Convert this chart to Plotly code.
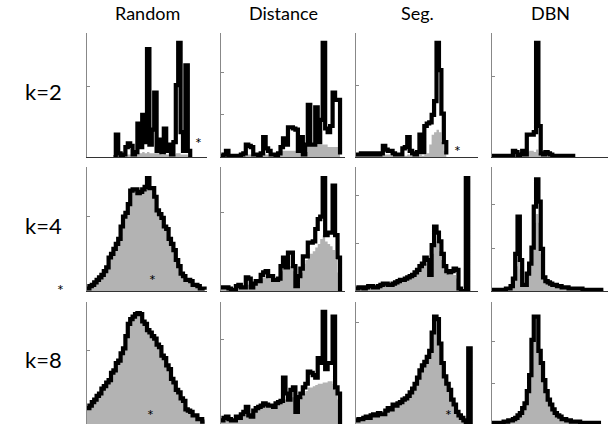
import plotly.graph_objects as go
import numpy as np

methods = ["Random", "Distance", "Seg.", "DBN"]
k_labels = ["k=2", "k=4", "k=8"]

# ---- k = 2 ----
random_k2_start = 11
random_k2 = [0.0, 0.18, 0.03, 0.01, 0.02, 0.08, 0.11, 0.09, 0.02, 0.04, 0.27, 0.08, 0.34, 0.12, 0.87, 0.1,
             0.22, 0.52, 0.05, 0.14, 0.04, 0.23, 0.05, 0.1, 0.02, 0.12, 0.58, 0.92, 0.2, 0.05, 0.74, 0.05, 0.0]
random_k2_fill = [0.0, 0.02, 0.01, 0.01, 0.01, 0.02, 0.02, 0.02, 0.02, 0.03, 0.03, 0.03, 0.04, 0.03, 0.04, 0.03,
                  0.03, 0.03, 0.03, 0.03, 0.02, 0.03, 0.02, 0.02, 0.02, 0.02, 0.03, 0.03, 0.02, 0.02, 0.02, 0.01, 0.0]

distance_k2_start = 0
distance_k2 = [0.01, 0.02, 0.05, 0.01, 0.01, 0.01, 0.01, 0.01, 0.02, 0.03, 0.1, 0.09, 0.08, 0.02, 0.02, 0.01,
               0.03, 0.16, 0.07, 0.05, 0.02, 0.02, 0.01, 0.03, 0.08, 0.15, 0.1, 0.24, 0.24, 0.23, 0.22, 0.05,
               0.16, 0.02, 0.1, 0.42, 0.1, 0.1, 0.4, 0.12, 0.3, 0.92, 0.23, 0.2, 0.25, 0.52, 0.46, 0.46, 0.02]
distance_k2_fill = [0.01, 0.01, 0.02, 0.01, 0.01, 0.01, 0.01, 0.01, 0.01, 0.01, 0.02, 0.02, 0.02, 0.01, 0.01, 0.01,
                    0.01, 0.02, 0.02, 0.01, 0.01, 0.01, 0.01, 0.01, 0.05, 0.05, 0.05, 0.05, 0.05, 0.05, 0.05, 0.04,
                    0.04, 0.02, 0.04, 0.1, 0.1, 0.1, 0.1, 0.1, 0.1, 0.1, 0.1, 0.08, 0.08, 0.08, 0.08, 0.08, 0.0]

seg_k2_start = 0
seg_k2 = [0.02, 0.02, 0.03, 0.02, 0.03, 0.02, 0.03, 0.02, 0.03, 0.02, 0.03, 0.09, 0.06, 0.05, 0.05, 0.03,
          0.02, 0.02, 0.02, 0.07, 0.08, 0.16, 0.05, 0.03, 0.02, 0.04, 0.18, 0.04, 0.25, 0.27, 0.28, 0.34,
          0.45, 0.92, 0.7, 0.35, 0.12, 0.02]
seg_k2_fill = [0.01, 0.01, 0.01, 0.01, 0.01, 0.01, 0.01, 0.01, 0.01, 0.01, 0.01, 0.02, 0.02, 0.02, 0.01, 0.01,
               0.01, 0.01, 0.01, 0.01, 0.01, 0.02, 0.01, 0.01, 0.01, 0.01, 0.02, 0.01, 0.02, 0.03, 0.1, 0.18,
               0.2, 0.22, 0.2, 0.12, 0.05, 0.0]

dbn_k2_start = 0
dbn_k2 = [0.01, 0.01, 0.01, 0.01, 0.01, 0.01, 0.01, 0.01, 0.01, 0.05, 0.04, 0.01, 0.02, 0.05, 0.02, 0.18,
          0.18, 0.18, 0.2, 0.92, 0.25, 0.03, 0.02, 0.04, 0.03, 0.02, 0.01, 0.01, 0.01, 0.01, 0.01, 0.01,
          0.01, 0.01, 0.01, 0.0]
dbn_k2_fill = [0.01, 0.01, 0.01, 0.01, 0.01, 0.01, 0.01, 0.01, 0.01, 0.02, 0.02, 0.01, 0.01, 0.02, 0.02, 0.04,
               0.05, 0.05, 0.04, 0.06, 0.03, 0.01, 0.01, 0.01, 0.01, 0.01, 0.01, 0.01, 0.01, 0.01, 0.01, 0.01,
               0.01, 0.01, 0.01, 0.0]

# ---- k = 4 ----
random_k4_start = 0
random_k4 = [0.02, 0.04, 0.05, 0.07, 0.09, 0.11, 0.13, 0.16, 0.19, 0.27, 0.3, 0.34, 0.38, 0.42, 0.52, 0.6,
             0.63, 0.7, 0.81, 0.82, 0.82, 0.79, 0.8, 0.82, 0.84, 0.91, 0.83, 0.83, 0.76, 0.65, 0.62, 0.59,
             0.52, 0.5, 0.42, 0.38, 0.33, 0.25, 0.2, 0.14, 0.12, 0.09, 0.09, 0.08, 0.05, 0.05, 0.04, 0.02,
             0.02, 0.01]
random_k4_fill = random_k4

distance_k4_start = 0
distance_k4 = [0.03, 0.03, 0.03, 0.02, 0.01, 0.01, 0.04, 0.05, 0.03, 0.03, 0.11, 0.1, 0.03, 0.06, 0.08, 0.08,
               0.13, 0.15, 0.16, 0.12, 0.12, 0.09, 0.09, 0.1, 0.2, 0.27, 0.19, 0.31, 0.31, 0.2, 0.04, 0.12,
               0.18, 0.28, 0.28, 0.39, 0.39, 0.4, 0.5, 0.58, 0.6, 0.91, 0.45, 0.47, 0.47, 0.85, 0.45, 0.27, 0.0]
distance_k4_fill = [0.02, 0.02, 0.02, 0.02, 0.01, 0.01, 0.03, 0.03, 0.03, 0.03, 0.05, 0.05, 0.03, 0.05, 0.07, 0.08,
                    0.1, 0.11, 0.12, 0.1, 0.1, 0.09, 0.09, 0.09, 0.16, 0.18, 0.18, 0.2, 0.2, 0.16, 0.04, 0.1,
                    0.15, 0.22, 0.25, 0.3, 0.3, 0.32, 0.35, 0.38, 0.42, 0.45, 0.4, 0.38, 0.36, 0.33, 0.25, 0.15, 0.0]

seg_k4_start = 0
seg_k4 = [0.02, 0.03, 0.03, 0.02, 0.03, 0.04, 0.04, 0.03, 0.03, 0.04, 0.05, 0.06, 0.06, 0.05, 0.05, 0.06,
          0.07, 0.08, 0.09, 0.09, 0.1, 0.11, 0.12, 0.13, 0.15, 0.17, 0.2, 0.22, 0.27, 0.25, 0.13, 0.37,
          0.52, 0.47, 0.4, 0.3, 0.2, 0.16, 0.15, 0.16, 0.18, 0.17, 0.02, 0.0, 0.0, 0.91, 0.0]
seg_k4_fill = [0.02, 0.03, 0.03, 0.02, 0.03, 0.04, 0.04, 0.03, 0.03, 0.04, 0.05, 0.06, 0.06, 0.05, 0.05, 0.06,
               0.07, 0.08, 0.09, 0.09, 0.1, 0.11, 0.12, 0.13, 0.15, 0.17, 0.2, 0.2, 0.22, 0.2, 0.15, 0.3,
               0.4, 0.38, 0.32, 0.25, 0.17, 0.14, 0.13, 0.13, 0.13, 0.1, 0.02, 0.0, 0.0, 0.0, 0.0]

dbn_k4_start = 0
dbn_k4 = [0.01, 0.01, 0.01, 0.01, 0.01, 0.01, 0.02, 0.02, 0.04, 0.1, 0.3, 0.6, 0.25, 0.05, 0.05, 0.14,
          0.22, 0.35, 0.68, 0.9, 0.72, 0.34, 0.11, 0.08, 0.07, 0.06, 0.05, 0.05, 0.04, 0.04, 0.03, 0.03,
          0.03, 0.02, 0.02, 0.02, 0.02, 0.02, 0.02, 0.01, 0.01, 0.01, 0.01, 0.01, 0.01, 0.01, 0.01, 0.01, 0.01]
dbn_k4_fill = [0.01, 0.01, 0.01, 0.01, 0.01, 0.01, 0.02, 0.02, 0.04, 0.08, 0.2, 0.25, 0.18, 0.04, 0.05, 0.12,
               0.2, 0.33, 0.55, 0.62, 0.55, 0.3, 0.1, 0.08, 0.07, 0.06, 0.05, 0.05, 0.04, 0.04, 0.03, 0.03,
               0.03, 0.02, 0.02, 0.02, 0.02, 0.02, 0.02, 0.01, 0.01, 0.01, 0.01, 0.01, 0.01, 0.01, 0.01, 0.01, 0.01]

# ---- k = 8 ----
random_k8_start = 0
random_k8 = [0.13, 0.15, 0.18, 0.2, 0.23, 0.25, 0.29, 0.31, 0.34, 0.36, 0.42, 0.44, 0.5, 0.52, 0.58, 0.62,
             0.72, 0.82, 0.86, 0.88, 0.9, 0.91, 0.9, 0.84, 0.82, 0.77, 0.75, 0.72, 0.7, 0.65, 0.63, 0.56,
             0.54, 0.48, 0.45, 0.37, 0.34, 0.28, 0.26, 0.21, 0.19, 0.12, 0.11, 0.1, 0.07, 0.07, 0.04, 0.04,
             0.02, 0.02]
random_k8_fill = random_k8

distance_k8_start = 0
distance_k8 = [0.03, 0.05, 0.06, 0.04, 0.03, 0.03, 0.06, 0.05, 0.08, 0.1, 0.14, 0.07, 0.06, 0.11, 0.13, 0.14,
               0.15, 0.17, 0.16, 0.15, 0.15, 0.14, 0.17, 0.18, 0.19, 0.38, 0.25, 0.2, 0.28, 0.3, 0.1, 0.22,
               0.25, 0.3, 0.33, 0.43, 0.42, 0.4, 0.38, 0.54, 0.5, 0.92, 0.45, 0.5, 0.5, 0.88, 0.3, 0.25, 0.0]
distance_k8_fill = [0.02, 0.04, 0.05, 0.04, 0.03, 0.03, 0.05, 0.05, 0.07, 0.08, 0.1, 0.07, 0.06, 0.1, 0.12, 0.13,
                    0.14, 0.15, 0.15, 0.14, 0.14, 0.14, 0.16, 0.17, 0.18, 0.2, 0.2, 0.2, 0.22, 0.22, 0.1, 0.2,
                    0.22, 0.25, 0.27, 0.3, 0.3, 0.31, 0.32, 0.33, 0.33, 0.34, 0.34, 0.35, 0.35, 0.33, 0.28, 0.2, 0.0]

seg_k8_start = 0
seg_k8 = [0.03, 0.04, 0.04, 0.05, 0.06, 0.05, 0.07, 0.08, 0.07, 0.09, 0.08, 0.08, 0.11, 0.13, 0.12, 0.16,
          0.15, 0.17, 0.18, 0.2, 0.21, 0.23, 0.26, 0.29, 0.33, 0.38, 0.44, 0.48, 0.51, 0.55, 0.6, 0.75,
          0.88, 0.86, 0.66, 0.5, 0.39, 0.33, 0.28, 0.2, 0.16, 0.1, 0.07, 0.05, 0.03, 0.0, 0.62, 0.0]
seg_k8_fill = seg_k8[:45] + [0.0, 0.0, 0.0]

dbn_k8_start = 0
dbn_k8 = [0.01, 0.01, 0.01, 0.01, 0.01, 0.02, 0.02, 0.03, 0.03, 0.04, 0.05, 0.07, 0.09, 0.13, 0.17, 0.27,
          0.4, 0.69, 0.88, 0.88, 0.6, 0.5, 0.36, 0.27, 0.2, 0.16, 0.12, 0.09, 0.07, 0.06, 0.04, 0.04,
          0.03, 0.03, 0.02, 0.02, 0.02, 0.02, 0.01, 0.01, 0.01, 0.01, 0.01, 0.01, 0.01, 0.01, 0.01, 0.01]
dbn_k8_fill = dbn_k8

panels = [
    [(random_k2_start, random_k2, random_k2_fill), (distance_k2_start, distance_k2, distance_k2_fill),
     (seg_k2_start, seg_k2, seg_k2_fill), (dbn_k2_start, dbn_k2, dbn_k2_fill)],
    [(random_k4_start, random_k4, random_k4_fill), (distance_k4_start, distance_k4, distance_k4_fill),
     (seg_k4_start, seg_k4, seg_k4_fill), (dbn_k4_start, dbn_k4, dbn_k4_fill)],
    [(random_k8_start, random_k8, random_k8_fill), (distance_k8_start, distance_k8, distance_k8_fill),
     (seg_k8_start, seg_k8, seg_k8_fill), (dbn_k8_start, dbn_k8, dbn_k8_fill)],
]

# small inside tick positions on each y axis (fraction of the panel's scale)
yticks = [
    [[0.57], [0.34, 0.68], [0.58], [0.65]],
    [[0.6], [0.63], [0.38, 0.77], [0.34, 0.7]],
    [[0.6], [0.69], [0.83], [0.33, 0.68]],
]

W, H = 609, 424
col_px = [(87, 207), (221, 345), (356, 478), (492, 608)]
row_px = [(33, 157), (167, 291), (302, 424)]

FILL = "#b3b3b3"
fig = go.Figure()
layout = dict(width=W, height=H, margin=dict(l=0, r=0, t=0, b=0),
              paper_bgcolor="white", plot_bgcolor="white", showlegend=False)

idx = 0
for r in range(3):
    for c in range(4):
        idx += 1
        sfx = "" if idx == 1 else str(idx)
        start, black, fillv = panels[r][c]
        x = np.arange(start, start + len(black))
        fig.add_trace(go.Scatter(x=x, y=fillv, mode="lines", fill="tozeroy", fillcolor=FILL,
                                 line=dict(width=0, color=FILL, shape="hv"), xaxis="x" + sfx,
                                 yaxis="y" + sfx, hoverinfo="skip"))
        fig.add_trace(go.Scatter(x=x, y=black, mode="lines", line=dict(width=4.2, color="black", shape="hv"),
                                 xaxis="x" + sfx, yaxis="y" + sfx))
        x0, x1 = col_px[c]
        y0, y1 = row_px[r]
        layout["xaxis" + sfx] = dict(domain=[x0 / W, x1 / W], range=[0, 50], anchor="y" + sfx,
                                     showgrid=False, zeroline=False, showticklabels=False,
                                     showline=True, linecolor="#333333", linewidth=1, ticks="")
        layout["yaxis" + sfx] = dict(domain=[max(0, 1 - y1 / H), 1 - y0 / H], range=[0, 1],
                                     anchor="x" + sfx, showgrid=False, zeroline=False,
                                     showticklabels=False, showline=True, linecolor="#888888",
                                     linewidth=1, ticks="inside", ticklen=3, tickcolor="#888888",
                                     tickvals=yticks[r][c])

annotations = []
for c, m in enumerate(methods):
    x0, x1 = col_px[c]
    annotations.append(dict(text=m, x=(x0 + x1) / 2 / W, y=1 - 13 / H, xref="paper", yref="paper",
                            showarrow=False, font=dict(family="Lato", size=18, color="black"),
                            xanchor="center", yanchor="middle"))
for r, k in enumerate(k_labels):
    y0, y1 = row_px[r]
    annotations.append(dict(text=k, x=43 / W, y=1 - ((y0 + y1) / 2 - 4) / H, xref="paper", yref="paper",
                            showarrow=False, font=dict(family="Lato", size=22, color="black"),
                            xanchor="center", yanchor="middle"))

# asterisk markers: (panel index, x bin, y fraction)
star_marks = [(1, 46.3, 0.12), (3, 41.5, 0.055), (5, 27.1, 0.09), (9, 26.4, 0.08), (11, 38.1, 0.075)]
for p, sx, sy in star_marks:
    sfx = "" if p == 1 else str(p)
    annotations.append(dict(text="*", x=sx, y=sy, xref="x" + sfx, yref="y" + sfx, showarrow=False,
                            font=dict(family="Lato", size=16, color="black"),
                            xanchor="center", yanchor="middle"))
annotations.append(dict(text="*", x=60 / W, y=1 - 289 / H, xref="paper", yref="paper", showarrow=False,
                        font=dict(family="Lato", size=16, color="black"), xanchor="center", yanchor="middle"))

layout["annotations"] = annotations
fig.update_layout(**layout)
fig.write_html("out.html", config={"displayModeBar": False},
               post_script="document.body.style.margin='0px';")
